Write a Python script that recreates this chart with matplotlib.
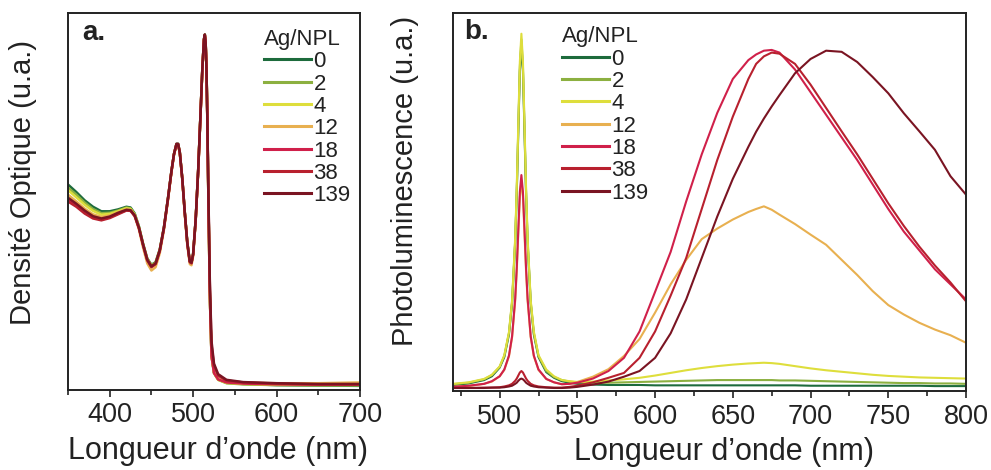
import matplotlib
matplotlib.use("Agg")
import matplotlib.pyplot as plt
from matplotlib.ticker import MultipleLocator

plt.rcParams['font.family'] = ['Liberation Sans', 'DejaVu Sans']

# séries Ag/NPL
labels = ['0', '2', '4', '12', '18', '38', '139']
colors = ['#1d6b3c', '#8cb040', '#dede3c', '#e8b050', '#d0204a', '#b8202e', '#7a1422']

# a. absorption (densité optique, normalisée)
abs_nm = [350, 360, 370, 380, 390, 400, 410, 420,
          425, 430, 435, 440, 445, 450, 455, 460, 465, 470,
          474, 477, 480, 482, 484, 487, 490, 493, 496, 498,
          500, 503, 506, 509, 511, 513, 514, 515, 516, 517,
          518, 520, 522, 525, 530, 540, 560, 600, 650, 700]
abs_0 = [0.545, 0.525, 0.503, 0.486, 0.474, 0.474, 0.479, 0.486,
         0.484, 0.468, 0.434, 0.388, 0.349, 0.332, 0.339, 0.373, 0.432, 0.512,
         0.581, 0.626, 0.653, 0.653, 0.631, 0.561, 0.471, 0.392, 0.342, 0.339,
         0.362, 0.451, 0.581, 0.741, 0.851, 0.931, 0.943, 0.921, 0.851, 0.721,
         0.552, 0.252, 0.092, 0.046, 0.028, 0.019, 0.016, 0.013, 0.012, 0.011]
abs_2 = [0.537, 0.518, 0.497, 0.480, 0.469, 0.470, 0.476, 0.484,
         0.482, 0.466, 0.433, 0.387, 0.348, 0.331, 0.338, 0.372, 0.431, 0.511,
         0.580, 0.625, 0.652, 0.652, 0.630, 0.560, 0.470, 0.391, 0.341, 0.338,
         0.361, 0.450, 0.580, 0.740, 0.850, 0.930, 0.942, 0.920, 0.850, 0.720,
         0.551, 0.251, 0.091, 0.045, 0.027, 0.018, 0.015, 0.013, 0.012, 0.012]
abs_4 = [0.530, 0.511, 0.491, 0.475, 0.465, 0.467, 0.474, 0.482,
         0.480, 0.465, 0.432, 0.386, 0.346, 0.329, 0.336, 0.371, 0.430, 0.510,
         0.580, 0.625, 0.652, 0.652, 0.630, 0.560, 0.470, 0.390, 0.340, 0.337,
         0.360, 0.450, 0.580, 0.740, 0.850, 0.930, 0.942, 0.920, 0.850, 0.720,
         0.550, 0.250, 0.090, 0.045, 0.027, 0.019, 0.016, 0.014, 0.014, 0.015]
abs_12 = [0.518, 0.500, 0.481, 0.466, 0.459, 0.463, 0.471, 0.479,
          0.477, 0.461, 0.426, 0.378, 0.336, 0.317, 0.326, 0.363, 0.425, 0.507,
          0.578, 0.624, 0.651, 0.651, 0.629, 0.558, 0.466, 0.385, 0.334, 0.331,
          0.355, 0.447, 0.578, 0.739, 0.849, 0.929, 0.941, 0.919, 0.849, 0.719,
          0.550, 0.252, 0.092, 0.047, 0.030, 0.022, 0.019, 0.018, 0.018, 0.020]
abs_18 = [0.505, 0.490, 0.472, 0.458, 0.452, 0.458, 0.468, 0.477,
          0.476, 0.462, 0.430, 0.385, 0.345, 0.327, 0.335, 0.370, 0.430, 0.510,
          0.580, 0.625, 0.652, 0.652, 0.630, 0.560, 0.470, 0.390, 0.340, 0.337,
          0.360, 0.450, 0.580, 0.740, 0.850, 0.930, 0.942, 0.920, 0.850, 0.720,
          0.550, 0.250, 0.090, 0.045, 0.028, 0.020, 0.017, 0.015, 0.014, 0.014]
abs_38 = [0.500, 0.486, 0.468, 0.455, 0.450, 0.456, 0.466, 0.476,
          0.475, 0.461, 0.429, 0.384, 0.344, 0.326, 0.334, 0.369, 0.429, 0.509,
          0.579, 0.624, 0.651, 0.651, 0.629, 0.559, 0.469, 0.389, 0.339, 0.336,
          0.359, 0.449, 0.579, 0.739, 0.849, 0.929, 0.941, 0.919, 0.849, 0.722,
          0.560, 0.280, 0.120, 0.065, 0.038, 0.025, 0.020, 0.017, 0.015, 0.015]
abs_139 = [0.510, 0.494, 0.476, 0.461, 0.455, 0.460, 0.470, 0.478,
           0.477, 0.463, 0.431, 0.386, 0.346, 0.328, 0.336, 0.371, 0.431, 0.511,
           0.581, 0.626, 0.653, 0.653, 0.631, 0.561, 0.471, 0.391, 0.341, 0.338,
           0.361, 0.451, 0.581, 0.741, 0.851, 0.931, 0.943, 0.921, 0.851, 0.725,
           0.565, 0.290, 0.130, 0.070, 0.042, 0.027, 0.021, 0.018, 0.016, 0.016]

# b. photoluminescence
pl_nm = [470, 480, 490, 495, 500, 503, 506, 508, 510, 511, 512, 513, 514,
         515, 516, 517, 518, 520, 522, 525, 530, 535, 540, 545, 550,
         560, 570, 580, 590, 600, 610, 620, 630, 640, 650, 660, 665, 670,
         675, 680, 690, 700, 710, 720, 730, 740, 750, 760, 770, 780, 790, 800]
pl_0 = [0.013, 0.017, 0.026, 0.036, 0.059, 0.087, 0.147, 0.229, 0.390, 0.520, 0.684, 0.845, 0.918,
        0.845, 0.684, 0.520, 0.390, 0.229, 0.147, 0.087, 0.047, 0.032, 0.023, 0.019, 0.016,
        0.014, 0.013, 0.013, 0.013, 0.012, 0.012, 0.012, 0.012, 0.012, 0.012, 0.012, 0.012, 0.012,
        0.012, 0.012, 0.012, 0.011, 0.011, 0.011, 0.011, 0.011, 0.011, 0.011, 0.011, 0.010, 0.010, 0.010]
pl_2 = [0.015, 0.019, 0.028, 0.039, 0.061, 0.090, 0.151, 0.234, 0.396, 0.527, 0.694, 0.857, 0.930,
        0.857, 0.694, 0.527, 0.396, 0.234, 0.151, 0.090, 0.050, 0.034, 0.026, 0.022, 0.020,
        0.019, 0.019, 0.020, 0.021, 0.022, 0.023, 0.024, 0.025, 0.026, 0.026, 0.026, 0.026, 0.026,
        0.026, 0.025, 0.025, 0.024, 0.023, 0.022, 0.021, 0.020, 0.019, 0.018, 0.018, 0.017, 0.017, 0.016]
pl_4 = [0.016, 0.020, 0.029, 0.040, 0.062, 0.092, 0.153, 0.237, 0.403, 0.536, 0.705, 0.870, 0.945,
        0.870, 0.705, 0.536, 0.403, 0.237, 0.155, 0.092, 0.054, 0.036, 0.026, 0.023, 0.021,
        0.022, 0.025, 0.028, 0.032, 0.038, 0.045, 0.052, 0.058, 0.063, 0.067, 0.070, 0.071, 0.072,
        0.071, 0.069, 0.063, 0.057, 0.052, 0.048, 0.044, 0.040, 0.037, 0.035, 0.033, 0.032, 0.031, 0.030]
pl_12 = [0.008, 0.010, 0.016, 0.022, 0.036, 0.053, 0.089, 0.139, 0.236, 0.314, 0.414, 0.511, 0.555,
         0.511, 0.414, 0.314, 0.236, 0.139, 0.089, 0.053, 0.029, 0.020, 0.015, 0.016, 0.021,
         0.035, 0.055, 0.090, 0.135, 0.205, 0.280, 0.345, 0.400, 0.428, 0.452, 0.472, 0.480, 0.487,
         0.478, 0.465, 0.440, 0.412, 0.385, 0.345, 0.305, 0.262, 0.225, 0.200, 0.178, 0.160, 0.145, 0.125]
pl_18 = [0.008, 0.011, 0.016, 0.023, 0.036, 0.054, 0.091, 0.142, 0.242, 0.323, 0.425, 0.525, 0.570,
         0.525, 0.425, 0.323, 0.242, 0.142, 0.091, 0.054, 0.029, 0.020, 0.015, 0.016, 0.019,
         0.030, 0.050, 0.085, 0.155, 0.260, 0.366, 0.500, 0.625, 0.735, 0.825, 0.875, 0.890, 0.900,
         0.902, 0.895, 0.850, 0.790, 0.730, 0.670, 0.610, 0.545, 0.480, 0.420, 0.370, 0.320, 0.280, 0.240]
pl_38 = [0.005, 0.005, 0.006, 0.006, 0.007, 0.009, 0.012, 0.016, 0.024, 0.030, 0.038, 0.046, 0.050,
         0.046, 0.038, 0.030, 0.024, 0.016, 0.012, 0.009, 0.007, 0.006, 0.006, 0.008, 0.011,
         0.020, 0.032, 0.045, 0.085, 0.155, 0.250, 0.350, 0.480, 0.610, 0.725, 0.825, 0.865, 0.885,
         0.895, 0.892, 0.865, 0.810, 0.748, 0.686, 0.625, 0.560, 0.495, 0.435, 0.380, 0.330, 0.285, 0.235]
pl_139 = [0.005, 0.005, 0.005, 0.006, 0.006, 0.007, 0.009, 0.011, 0.016, 0.019, 0.024, 0.028, 0.030,
          0.028, 0.024, 0.019, 0.016, 0.011, 0.009, 0.007, 0.006, 0.005, 0.005, 0.006, 0.008,
          0.014, 0.022, 0.035, 0.050, 0.085, 0.150, 0.240, 0.350, 0.460, 0.560, 0.645, 0.685, 0.720,
          0.752, 0.782, 0.840, 0.878, 0.900, 0.897, 0.870, 0.830, 0.787, 0.734, 0.686, 0.637, 0.567, 0.518]

abs_series = [abs_0, abs_2, abs_4, abs_12, abs_18, abs_38, abs_139]
pl_series = [pl_0, pl_2, pl_4, pl_12, pl_18, pl_38, pl_139]

fig = plt.figure(figsize=(9.91, 4.70), dpi=100)
ax1 = fig.add_axes([68 / 991, 80 / 470, 292 / 991, 377 / 470])
ax2 = fig.add_axes([453 / 991, 79 / 470, 513 / 991, 378 / 470])

for lab, c, y in zip(labels, colors, abs_series):
    ax1.plot(abs_nm, y, color=c, lw=1.8, label=lab)
for lab, c, y in zip(labels, colors, pl_series):
    ax2.plot(pl_nm, y, color=c, lw=1.5, label=lab)

ax1.set_xlim(350, 700)
ax1.set_ylim(0, 1)
ax1.xaxis.set_major_locator(MultipleLocator(100))
ax1.xaxis.set_minor_locator(MultipleLocator(50))
ax2.set_xlim(470, 800)
ax2.set_ylim(-0.003, 1)
ax2.xaxis.set_major_locator(MultipleLocator(50))
ax2.xaxis.set_minor_locator(MultipleLocator(25))

for ax in (ax1, ax2):
    ax.set_yticks([])
    ax.tick_params(axis='x', which='major', direction='out', length=5, width=1.2,
                   labelsize=19.5, colors='#222222', pad=4)
    ax.tick_params(axis='x', which='minor', direction='out', length=3.5, width=1.2,
                   colors='#222222')
    for s in ax.spines.values():
        s.set_linewidth(1.4)
        s.set_color('#222222')
    ax.set_xlabel("Longueur d\u2019onde (nm)", fontsize=22, color='#222222')

ax1.xaxis.set_label_coords(0.514, -0.122)
ax2.xaxis.set_label_coords(0.528, -0.122)

ax1.set_ylabel("Densit\u00e9 Optique (u.a.)", fontsize=21, color='#222222')
ax1.yaxis.set_label_coords(-0.105, 0.55)
ax2.set_ylabel("Photoluminescence (u.a.)", fontsize=21, color='#222222')
ax2.yaxis.set_label_coords(-0.066, 0.555)

ax1.text(0.048, 0.982, "a.", transform=ax1.transAxes, fontsize=20, fontweight='bold',
         va='top', ha='left', color='#222222')
ax2.text(0.022, 0.985, "b.", transform=ax2.transAxes, fontsize=20, fontweight='bold',
         va='top', ha='left', color='#222222')

leg_kw = dict(title='Ag/NPL', frameon=False, fontsize=16, title_fontsize=16,
              handlelength=2.1, handletextpad=0.12, labelspacing=0.06,
              borderpad=0, borderaxespad=0, loc='upper left', alignment='left')
leg1 = ax1.legend(bbox_to_anchor=(0.672, 0.958), **leg_kw)
leg2 = ax2.legend(bbox_to_anchor=(0.213, 0.965), **leg_kw)
for leg in (leg1, leg2):
    for t in leg.get_texts():
        t.set_color('#222222')
    leg.get_title().set_color('#222222')
    for h in leg.get_lines():
        h.set_linewidth(2.2)

fig.savefig("out.png", dpi=100)
